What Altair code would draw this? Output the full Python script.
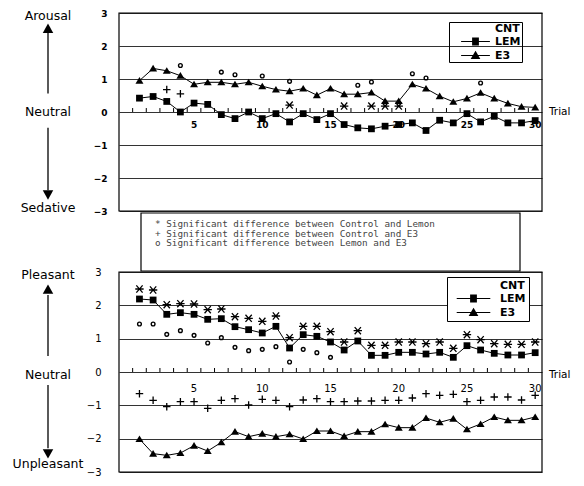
import altair as alt
import pandas as pd

trials = list(range(1, 31))

# ---- Top panel (Arousal / Sedative) ----
top_lem = [0.42, 0.47, 0.32, 0.0, 0.27, 0.23, -0.08, -0.2, 0.0, -0.2, -0.05, -0.3, -0.05, -0.23, -0.05,
           -0.38, -0.48, -0.51, -0.43, -0.38, -0.33, -0.56, -0.25, -0.33, -0.05, -0.3, -0.13, -0.33, -0.33, -0.26]
top_e3 = [0.95, 1.32, 1.25, 1.1, 0.84, 0.9, 0.9, 0.84, 0.9, 0.78, 0.68, 0.63, 0.71, 0.51, 0.71,
          0.54, 0.54, 0.59, 0.33, 0.33, 0.84, 0.71, 0.48, 0.31, 0.41, 0.58, 0.41, 0.26, 0.16, 0.14]
top_star_t = [12, 16, 18, 19, 20]
top_star_v = [0.21, 0.18, 0.18, 0.18, 0.18]
top_plus_t = [3, 4]
top_plus_v = [0.68, 0.55]
top_o_t = [4, 7, 8, 10, 12, 17, 18, 21, 22, 26]
top_o_v = [1.41, 1.21, 1.13, 1.09, 0.93, 0.81, 0.91, 1.16, 1.03, 0.88]

# ---- Bottom panel (Pleasant / Unpleasant) ----
bot_lem = [2.19, 2.16, 1.73, 1.78, 1.73, 1.58, 1.60, 1.36, 1.27, 1.17, 1.37, 0.72, 1.12, 1.07, 0.90,
           0.66, 0.93, 0.50, 0.50, 0.59, 0.59, 0.54, 0.59, 0.44, 0.79, 0.66, 0.56, 0.51, 0.51, 0.58]
bot_e3 = [-2.01, -2.45, -2.50, -2.43, -2.21, -2.37, -2.11, -1.79, -1.94, -1.85, -1.94, -1.87, -2.01, -1.77, -1.77,
          -1.92, -1.79, -1.79, -1.57, -1.67, -1.67, -1.38, -1.51, -1.40, -1.72, -1.56, -1.35, -1.45, -1.45, -1.35]
bot_star_v = [2.49, 2.46, 2.02, 2.05, 2.04, 1.87, 1.89, 1.66, 1.61, 1.52, 1.68, 1.03, 1.37, 1.37, 1.21,
              0.90, 1.24, 0.80, 0.80, 0.90, 0.90, 0.85, 0.90, 0.71, 1.12, 0.97, 0.85, 0.83, 0.83, 0.90]
bot_o_t = list(range(1, 16))
bot_o_v = [1.44, 1.44, 1.13, 1.24, 1.10, 0.87, 1.03, 0.74, 0.64, 0.68, 0.76, 0.30, 0.68, 0.58, 0.44]
bot_plus_v = [-0.65, -0.85, -1.04, -0.89, -0.89, -1.09, -0.85, -0.80, -0.99, -0.82, -0.85, -1.04, -0.84, -0.80, -0.89,
              -0.89, -0.87, -0.87, -0.85, -0.85, -0.78, -0.65, -0.70, -0.67, -0.89, -0.85, -0.75, -0.75, -0.84, -0.70]

trial_labels = [5, 10, 15, 20, 25, 30]
tick_pos = [t - 0.5 for t in trials]
y_ticks = [-3, -2, -1, 0, 1, 2, 3]

legend_names = ["CNT", "LEM", "E3"]

top_ann = ["Arousal", "Neutral", "Sedative"]
top_ann_v = [2.92, 0.0, -2.92]
bot_ann = ["Pleasant", "Neutral", "Unpleasant"]
bot_ann_v = [2.9, -0.1, -2.76]

notes = ["* Significant difference between Control and Lemon",
         "+ Significant difference between Control and E3",
         "o Significant difference between Lemon and E3"]

W = 423
H_TOP = 198
H_NOTES = 61
H_BOT = 200
FONT = "DejaVu Sans"
STAR = "M-1,0L1,0M-0.75,-0.85L0.75,0.85M-0.75,0.85L0.75,-0.85"

xscale = alt.Scale(domain=[-0.5, 30.5], nice=False, zero=False)


def X(field="trial"):
    return alt.X(f"{field}:Q", scale=xscale, axis=None)


def hatched_square(h):
    ys = [-h + k * 0.24 for k in range(int(2 * h / 0.24) + 1)] + [h]
    return "".join(f"M-{h},{y:.2f}L{h},{y:.2f}" for y in ys)


def hatched_triangle(top, base, half):
    out = f"M0,{top}L{half},{base}L-{half},{base}Z"
    y = top + 0.2
    while y <= base:
        w = half * (y - top) / (base - top)
        out += f"M-{w:.2f},{y:.2f}L{w:.2f},{y:.2f}"
        y += 0.24
    return out


def make_panel(lem, e3, star_t, star_v, plus_t, plus_v, o_t, o_v, ann, ann_v,
               arrow_up, arrow_dn, height, label_bold, label_pad, num_y, trial_y,
               leg_x, leg_y, leg_fill, line_half, lab_off, leg_pad):
    yaxis = alt.Axis(values=y_ticks, title=None, ticks=False, domain=False, grid=True,
                     gridColor="#333", gridWidth=1, labelFont=FONT, labelFontSize=9 if label_bold else 10,
                     labelFontWeight="bold" if label_bold else "normal", labelColor="black",
                     labelPadding=label_pad, format="d")
    yscale = alt.Scale(domain=[-3, 3], nice=False, zero=False)

    def Y(field="v"):
        return alt.Y(f"{field}:Q", scale=yscale, axis=yaxis)

    frame = alt.Chart(pd.DataFrame({"a": [0]})).mark_rect(fill="transparent", stroke="black", strokeWidth=1.2).encode(
        x=alt.value(0), x2=alt.value(W), y=alt.value(0), y2=alt.value(height))

    ticks = alt.Chart(pd.DataFrame({"trial": tick_pos, "v": [0] * len(tick_pos), "v2": [0.12] * len(tick_pos)})
                      ).mark_rule(color="black", strokeWidth=1).encode(x=X(), y=Y(), y2="v2:Q")

    nums = alt.Chart(pd.DataFrame({"trial": trial_labels, "v": [num_y] * len(trial_labels),
                                   "t": [str(t) for t in trial_labels]})).mark_text(
        font=FONT, fontSize=9 if label_bold else 10, fontWeight="bold" if label_bold else "normal",
        color="black").encode(x=X(), y=Y(), text="t:N")

    lem_df = pd.DataFrame({"trial": trials, "v": lem})
    e3_df = pd.DataFrame({"trial": trials, "v": e3})
    lem_line = alt.Chart(lem_df).mark_line(color="black", strokeWidth=1).encode(x=X(), y=Y())
    lem_pts = alt.Chart(lem_df).mark_point(shape="square", filled=True, color="black", size=46, opacity=1).encode(x=X(), y=Y())
    e3_line = alt.Chart(e3_df).mark_line(color="black", strokeWidth=1).encode(x=X(), y=Y())
    e3_pts = alt.Chart(e3_df).mark_point(shape="M0,-0.9L1,0.75L-1,0.75Z", filled=True, color="black", size=64, opacity=1).encode(x=X(), y=Y())

    stars = alt.Chart(pd.DataFrame({"trial": star_t, "v": star_v})).mark_point(
        shape=STAR, filled=False, color="black", strokeWidth=1.3, size=70, opacity=1).encode(x=X(), y=Y())
    pluses = alt.Chart(pd.DataFrame({"trial": plus_t, "v": plus_v})).mark_point(
        shape="M-1,0L1,0M0,-1L0,1", filled=False, color="black", strokeWidth=1.3, size=56, opacity=1).encode(x=X(), y=Y())
    circles = alt.Chart(pd.DataFrame({"trial": o_t, "v": o_v})).mark_point(
        shape="circle", filled=False, color="black", strokeWidth=1.4, size=14, opacity=1).encode(x=X(), y=Y())

    ann_txt = alt.Chart(pd.DataFrame({"t": ann, "v": ann_v})).mark_text(
        font=FONT, fontSize=12.5, color="black", align="center", baseline="middle").encode(
        x=alt.value(-71), y=Y(), text="t:N")
    arrows = alt.Chart(pd.DataFrame({"v": [arrow_up[0], arrow_dn[0]], "v2": [arrow_up[1], arrow_dn[1]]})).mark_rule(
        color="black", strokeWidth=1.3).encode(x=alt.value(-71), y=Y(), y2="v2:Q")
    head_up = alt.Chart(pd.DataFrame({"v": [arrow_up[2]]})).mark_point(
        shape="M0,-1L1,0.8L-1,0.8Z", filled=True, color="black", size=110, opacity=1).encode(x=alt.value(-71), y=Y())
    head_dn = alt.Chart(pd.DataFrame({"v": [arrow_dn[2]]})).mark_point(
        shape="M0,1L1,-0.8L-1,-0.8Z", filled=True, color="black", size=110, opacity=1).encode(x=alt.value(-71), y=Y())
    trial_txt = alt.Chart(pd.DataFrame({"v": [trial_y], "t": ["Trial"]})).mark_text(
        font=FONT, fontSize=10.5, color="black", align="left", baseline="middle").encode(
        x=alt.value(W + 7), y=Y(), text="t:N")

    r = line_half
    leg_paths = ["M0,0",
                 f"M-{r},0L{r},0" + hatched_square(0.85),
                 f"M-{r},0L{r},0" + hatched_triangle(-0.9, 0.75, 0.95)]
    leg = alt.Chart(pd.DataFrame({"lg": legend_names})).mark_point(
        filled=False, color="black", strokeWidth=1.2).encode(
        x=alt.value(0), y=alt.value(0), opacity=alt.value(0),
        shape=alt.Shape("lg:N", scale=alt.Scale(domain=legend_names, range=leg_paths),
                        sort=legend_names,
                        legend=alt.Legend(title=None, orient="none", legendX=leg_x, legendY=leg_y,
                                          strokeColor="black", fillColor=leg_fill, padding=leg_pad,
                                          rowPadding=1, symbolSize=64, symbolOffset=21 - leg_pad,
                                          symbolStrokeColor="black",
                                          symbolStrokeWidth=1.2, symbolOpacity=1, labelOffset=lab_off - leg_pad,
                                          labelFont=FONT, labelFontSize=11, labelFontWeight="bold",
                                          labelColor="black", labelExpr="datum.label + '   '")))

    return alt.layer(ticks, nums, lem_line, e3_line, lem_pts, e3_pts, stars, pluses, circles,
                     ann_txt, arrows, head_up, head_dn, trial_txt, leg, frame).properties(width=W, height=height)


top = make_panel(top_lem, top_e3, top_star_t, top_star_v, top_plus_t, top_plus_v, top_o_t, top_o_v,
                 top_ann, top_ann_v, (0.56, 2.40, 2.52), (-0.48, -2.37, -2.5), H_TOP, True, 12,
                 -0.38, 0.0, 330, 9, "transparent", 3.6, 15, 1)

bottom = make_panel(bot_lem, bot_e3, trials, bot_star_v, trials, bot_plus_v, bot_o_t, bot_o_v,
                    bot_ann, bot_ann_v, (0.48, 2.31, 2.47), (-0.39, -2.29, -2.44), H_BOT, False, 18,
                    -0.51, -0.1, 328, 5, "white", 4.2, 24, 3)

notes_box = alt.Chart(pd.DataFrame({"a": [0]})).mark_rect(fill="white", stroke="black", strokeWidth=1.2).encode(
    x=alt.value(22), x2=alt.value(401), y=alt.value(2), y2=alt.value(H_NOTES - 1))
notes_txt = alt.Chart(pd.DataFrame({"i": [0, 1, 2], "t": notes})).mark_text(
    font="DejaVu Sans Mono", fontSize=9.3, color="#444", align="left", baseline="middle").encode(
    x=alt.value(36), y=alt.Y("i:Q", axis=None, scale=alt.Scale(domain=[-1.42, 5.0], reverse=True, nice=False, zero=False)),
    text="t:N")
notes_chart = alt.layer(notes_box, notes_txt).properties(width=W, height=H_NOTES,
                                                         view=alt.ViewBackground(stroke="transparent"))

chart = alt.vconcat(top, notes_chart, bottom, spacing=0, bounds="flush").properties(
    padding={"left": 4, "top": 0, "right": 0, "bottom": 0}
).configure_view(stroke="transparent").resolve_scale(y="independent", shape="independent")

chart.save("out.html", embed_options={"renderer": "svg", "actions": False})
